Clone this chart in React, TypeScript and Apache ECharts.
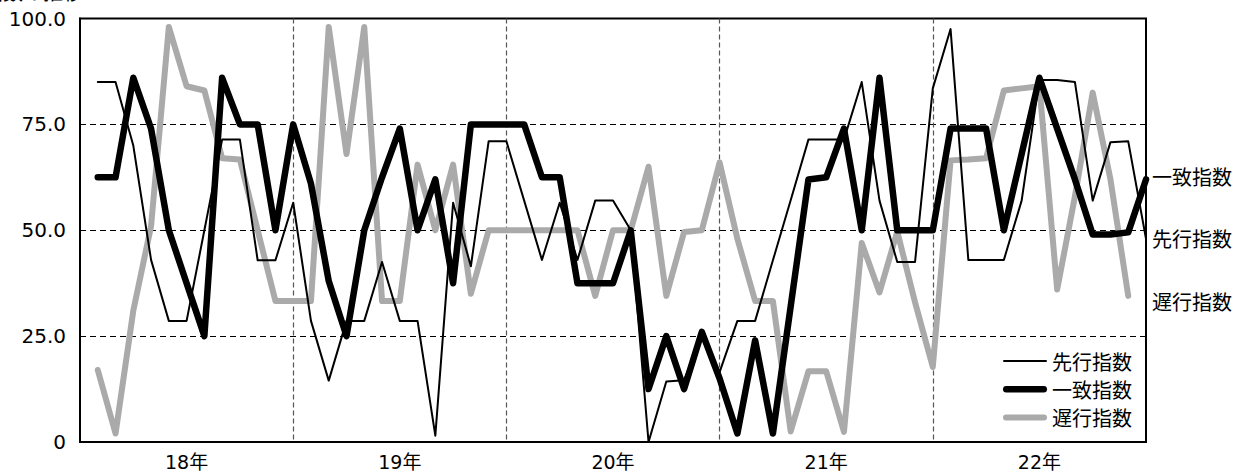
import React, { useEffect, useRef } from "react";
import * as echarts from "echarts";

// Month categories: index 0 is the axis origin (17年12月), then 18年1月 .. 22年12月
const years = [18, 19, 20, 21, 22];
const categories: string[] = ["17年12月"];
years.forEach((y) => {
  for (let m = 1; m <= 12; m++) categories.push(`${y}年${m}月`);
});

const yTicks = [0, 25, 50, 75, 100];

// 先行指数
const leading = [
  85, 85, 70, 43, 28.6, 28.6, 50, 71.4, 71.4, 42.9,
  42.9, 56.5, 28.6, 14.5, 28.6, 28.6, 42.5, 28.6, 28.6, 1.5,
  56.5, 41.5, 71, 71, 57, 43, 56.5, 43, 57, 57,
  50, 0, 14.3, 14.6, 25, 16.5, 28.6, 28.6, 42.9, 57.1,
  71.4, 71.4, 71.4, 85, 57, 42.5, 42.5, 83.5, 97.5, 43,
  43, 43, 57, 85.5, 85.5, 85, 57, 70.8, 71, 48,
];

// 一致指数
const coincident = [
  62.5, 62.5, 86, 74, 50, 37.5, 25, 86, 75, 75,
  50, 75, 61, 38, 25, 50, 62.5, 74, 50, 62,
  37.5, 75, 75, 75, 75, 62.5, 62.5, 37.5, 37.5, 37.5,
  50, 12.5, 25, 12.5, 26, 15, 2, 24, 2, 32,
  62, 62.5, 74, 50, 86, 50, 50, 50, 74, 74,
  74, 50, 68, 86, 74, 62, 49, 49, 49.5, 62,
];

// 遅行指数
const lagging = [
  17, 2, 31, 51, 98, 84, 83, 67, 66.7, 50,
  33.3, 33.3, 33.3, 98, 68, 98, 33.3, 33.3, 65.5, 50,
  65.5, 35, 50, 50, 50, 50, 50, 50, 34.5, 50,
  50, 65, 34.5, 49.6, 50, 66, 48, 33.3, 33.3, 2.5,
  16.7, 16.7, 2.4, 47, 35.3, 49.7, 33, 17.7, 66.5, 66.7,
  67, 83, 83.5, 84, 36, 58, 82.5, 62, 34.5, null,
];

const seriesNames = ["先行指数", "一致指数", "遅行指数"];
const sideLabels = ["一致指数", "先行指数", "遅行指数"];
const titleText = "景気動向指数の推移";

const FONT = '"Noto Sans CJK JP", "Noto Sans", sans-serif';
const NUM_FONT = '"DejaVu Sans", "Noto Sans CJK JP", sans-serif';

const THIN_ICON = "path://M1 0H43A1 1 0 0 1 43 2H1A1 1 0 0 1 1 0Z";
const THICK_ICON = "path://M3.25 0H40.75A3.25 3.25 0 0 1 40.75 6.5H3.25A3.25 3.25 0 0 1 3.25 0Z";
const GRAY_ICON = "path://M3 0H41A3 3 0 0 1 41 6H3A3 3 0 0 1 3 0Z";

export default function App() {
  const ref = useRef<HTMLDivElement>(null);

  useEffect(() => {
    if (!ref.current) return;
    const chart = echarts.init(ref.current, undefined, { renderer: "svg" });
    const withOrigin = (arr: (number | null)[]) => [null, ...arr];

    chart.setOption({
      animation: false,
      backgroundColor: "#ffffff",
      textStyle: { fontFamily: FONT },
      grid: {
        left: 80,
        right: 100,
        top: 18.5,
        bottom: 33,
        show: true,
        borderColor: "#000",
        borderWidth: 2,
        backgroundColor: "transparent",
      },
      legend: {
        orient: "vertical",
        left: 1003,
        top: 350,
        padding: 0,
        itemWidth: 44,
        itemHeight: 14,
        itemGap: 6.3,
        symbolKeepAspect: true,
        data: [
          { name: seriesNames[0], icon: THIN_ICON },
          { name: seriesNames[1], icon: THICK_ICON },
          { name: seriesNames[2], icon: GRAY_ICON },
        ],
        textStyle: { fontSize: 20, color: "#000", fontFamily: FONT, lineHeight: 22 },
      },
      xAxis: {
        type: "category",
        data: categories,
        boundaryGap: false,
        axisLine: { show: true, lineStyle: { color: "#000", width: 2 } },
        axisTick: { show: false },
        axisLabel: {
          interval: (index: number) => index % 12 === 6,
          formatter: (v: string) => v.split("年")[0] + "年",
          fontSize: 19,
          lineHeight: 20,
          color: "#000",
          margin: 10,
          fontFamily: NUM_FONT,
        },
        splitLine: {
          show: true,
          interval: (index: number) => index % 12 === 0 && index > 0 && index < categories.length - 1,
          lineStyle: { color: "#555", type: [5, 3], width: 1.2 },
        },
      },
      yAxis: {
        type: "value",
        min: yTicks[0],
        max: yTicks[yTicks.length - 1],
        interval: 25,
        axisLine: { show: true, lineStyle: { color: "#000", width: 2 } },
        axisTick: { show: false },
        axisLabel: {
          formatter: (v: number) => (v === 0 ? "0" : v.toFixed(1)),
          fontSize: 20,
          color: "#000",
          margin: 14,
          fontFamily: NUM_FONT,
        },
        splitLine: {
          show: true,
          lineStyle: { color: "#000", type: [6, 4], width: 1 },
        },
      },
      series: [
        {
          name: "先行指数",
          type: "line",
          data: withOrigin(leading),
          symbol: "none",
          z: 4,
          lineStyle: { color: "#000", width: 2, join: "round", cap: "round" },
          itemStyle: { color: "#000" },
        },
        {
          name: "一致指数",
          type: "line",
          data: withOrigin(coincident),
          symbol: "none",
          z: 3,
          lineStyle: { color: "#000", width: 6.5, join: "round", cap: "round" },
          itemStyle: { color: "#000" },
        },
        {
          name: "遅行指数",
          type: "line",
          data: withOrigin(lagging),
          symbol: "none",
          z: 2,
          lineStyle: { color: "#aaaaaa", width: 6, join: "round", cap: "round" },
          itemStyle: { color: "#aaaaaa" },
        },
      ],
      graphic: [
        {
          type: "text",
          x: 83,
          y: -19,
          style: {
            text: titleText,
            fontSize: 20,
            fill: "#000",
            fontFamily: FONT,
            align: "right",
            verticalAlign: "top",
          },
        },
        {
          type: "text",
          left: 1152,
          top: 166,
          style: { text: sideLabels[0], fontSize: 20, fill: "#000", fontFamily: FONT },
        },
        {
          type: "text",
          left: 1152,
          top: 228,
          style: { text: sideLabels[1], fontSize: 20, fill: "#000", fontFamily: FONT },
        },
        {
          type: "text",
          left: 1152,
          top: 291,
          style: { text: sideLabels[2], fontSize: 20, fill: "#000", fontFamily: FONT },
        },
      ],
    });

    return () => chart.dispose();
  }, []);

  return (
    <div
      ref={ref}
      style={{ position: "fixed", left: 0, top: 0, width: 1246, height: 475, background: "#fff" }}
    />
  );
}
